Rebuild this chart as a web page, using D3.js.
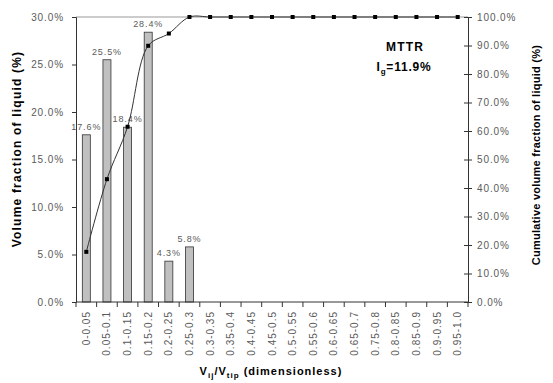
<!DOCTYPE html>
<html>
<head>
<meta charset="utf-8">
<script src="https://cdn.jsdelivr.net/npm/d3@7"></script>
<style>
  body { margin: 0; background: #fff; }
  text { font-family: "Liberation Sans", Arial, sans-serif; }
</style>
</head>
<body>
<script>
// bins of V_ij/V_tip
const categories = ['0-0.05', '0.05-0.1', '0.1-0.15', '0.15-0.2', '0.2-0.25', '0.25-0.3',
    '0.3-0.35', '0.35-0.4', '0.4-0.45', '0.45-0.5', '0.5-0.55', '0.55-0.6', '0.6-0.65',
    '0.65-0.7', '0.75-0.8', '0.8-0.85', '0.85-0.9', '0.9-0.95', '0.95-1.0'];
const volumeFraction = [17.6, 25.5, 18.4, 28.4, 4.3, 5.8, 0, 0, 0, 0, 0, 0, 0, 0, 0, 0, 0, 0, 0];
const cumulative = [17.6, 43.1, 61.5, 89.9, 94.2, 100, 100, 100, 100, 100, 100, 100, 100, 100, 100, 100, 100, 100, 100];
const leftTicks = [0, 5, 10, 15, 20, 25, 30];
const rightTicks = [0, 10, 20, 30, 40, 50, 60, 70, 80, 90, 100];

const width = 553, height = 383;
const margin = { top: 17, right: 85, bottom: 81, left: 76 };
const w = width - margin.left - margin.right;
const h = height - margin.top - margin.bottom;

const svg = d3.select('body').append('svg')
    .attr('width', width)
    .attr('height', height);

const g = svg.append('g')
    .attr('transform', `translate(${margin.left},${margin.top})`);

const xb = d3.scaleBand().domain(categories).range([0, w]);
const yL = d3.scaleLinear().domain([0, 30]).range([h, 0]);
const yR = d3.scaleLinear().domain([0, 100]).range([h, 0]);

const fmt = d => d.toFixed(1) + '%';
const tickColor = '#5a5a5a';
const mid = c => xb(c) + xb.bandwidth() / 2;

// top border of plot area
g.append('line')
    .attr('x1', 0).attr('x2', w)
    .attr('y1', 0).attr('y2', 0)
    .attr('stroke', '#999');

const barData = volumeFraction.map((v, i) => ({ v, c: categories[i] })).filter(d => d.v > 0);

// bars
g.append('g')
    .selectAll('rect')
    .data(barData)
    .enter().append('rect')
    .attr('x', d => mid(d.c) - 4)
    .attr('width', 8)
    .attr('y', d => yL(d.v))
    .attr('height', d => h - yL(d.v))
    .attr('fill', '#c0c0c0')
    .attr('stroke', '#333')
    .attr('stroke-width', 0.8);

// bar labels
g.append('g')
    .selectAll('text')
    .data(barData)
    .enter().append('text')
    .attr('x', d => mid(d.c))
    .attr('y', d => yL(d.v) - 5)
    .attr('text-anchor', 'middle')
    .attr('font-size', 9)
    .attr('letter-spacing', 0.9)
    .attr('fill', tickColor)
    .text(d => fmt(d.v));

// cumulative line
const line = d3.line()
    .x((d, i) => mid(categories[i]))
    .y(d => yR(d))
    .curve(d3.curveCatmullRom.alpha(0.5));

g.append('path')
    .datum(cumulative)
    .attr('d', line)
    .attr('fill', 'none')
    .attr('stroke', '#333')
    .attr('stroke-width', 1);

g.append('g')
    .selectAll('rect')
    .data(cumulative)
    .enter().append('rect')
    .attr('x', (d, i) => mid(categories[i]) - 2)
    .attr('y', d => yR(d) - 2)
    .attr('width', 4)
    .attr('height', 4)
    .attr('fill', '#000');

// axes
const axisLeft = d3.axisLeft(yL).tickValues(leftTicks).tickFormat(fmt).tickSize(4).tickPadding(8);
const axisRight = d3.axisRight(yR).tickValues(rightTicks).tickFormat(fmt).tickSize(4).tickPadding(5);

const gl = g.append('g').call(axisLeft);
const gr = g.append('g').attr('transform', `translate(${w},0)`).call(axisRight);
gr.selectAll('.tick line').attr('x1', -4);

// x axis: ticks at band boundaries
const gx = g.append('g').attr('transform', `translate(0,${h})`);
gx.append('line').attr('x1', 0).attr('x2', w).attr('stroke', '#333');
gx.selectAll('.xt')
    .data(d3.range(categories.length + 1))
    .enter().append('line')
    .attr('x1', i => i * xb.step()).attr('x2', i => i * xb.step())
    .attr('y1', 0).attr('y2', 5)
    .attr('stroke', '#333');
gx.selectAll('.xl')
    .data(categories)
    .enter().append('text')
    .attr('transform', d => `translate(${mid(d) + 3.5},9) rotate(-90)`)
    .attr('text-anchor', 'end')
    .attr('font-size', 10)
    .attr('letter-spacing', 1)
    .attr('fill', tickColor)
    .text(d => d);

[gl, gr].forEach(a => {
    a.select('.domain').attr('stroke', '#333');
    a.selectAll('.tick line').attr('stroke', '#333');
    a.selectAll('.tick text')
        .attr('font-size', 10)
        .attr('letter-spacing', 0.9)
        .attr('fill', tickColor)
        .attr('font-family', '"Liberation Sans", Arial, sans-serif');
});

// axis titles
svg.append('text')
    .attr('transform', 'translate(21,149) rotate(-90)')
    .attr('text-anchor', 'middle')
    .attr('font-size', 12)
    .attr('font-weight', 'bold')
    .attr('letter-spacing', 1.2)
    .text('Volume fraction of liquid (%)');

svg.append('text')
    .attr('transform', 'translate(540,155) rotate(-90)')
    .attr('text-anchor', 'middle')
    .attr('font-size', 11)
    .attr('font-weight', 'bold')
    .attr('letter-spacing', 0.25)
    .text('Cumulative volume fraction of liquid (%)');

const xt = svg.append('text')
    .attr('x', 271)
    .attr('y', 375)
    .attr('text-anchor', 'middle')
    .attr('font-size', 11)
    .attr('font-weight', 'bold')
    .attr('letter-spacing', 1);
xt.append('tspan').text('V');
xt.append('tspan').attr('font-size', 8).attr('dy', 3).text('ij');
xt.append('tspan').attr('dy', -3).text('/V');
xt.append('tspan').attr('font-size', 8).attr('dy', 3).text('tip');
xt.append('tspan').attr('dy', -3).text(' (dimensionless)');

// annotation
svg.append('text')
    .attr('x', 405).attr('y', 51)
    .attr('text-anchor', 'middle')
    .attr('font-size', 12)
    .attr('font-weight', 'bold')
    .attr('letter-spacing', 1.2)
    .text('MTTR');

const an = svg.append('text')
    .attr('x', 404).attr('y', 71)
    .attr('text-anchor', 'middle')
    .attr('font-size', 12)
    .attr('font-weight', 'bold')
    .attr('letter-spacing', 0.8);
an.append('tspan').text('I');
an.append('tspan').attr('font-size', 8).attr('dy', 3).text('g');
an.append('tspan').attr('dy', -3).text('=11.9%');
</script>
</body>
</html>
